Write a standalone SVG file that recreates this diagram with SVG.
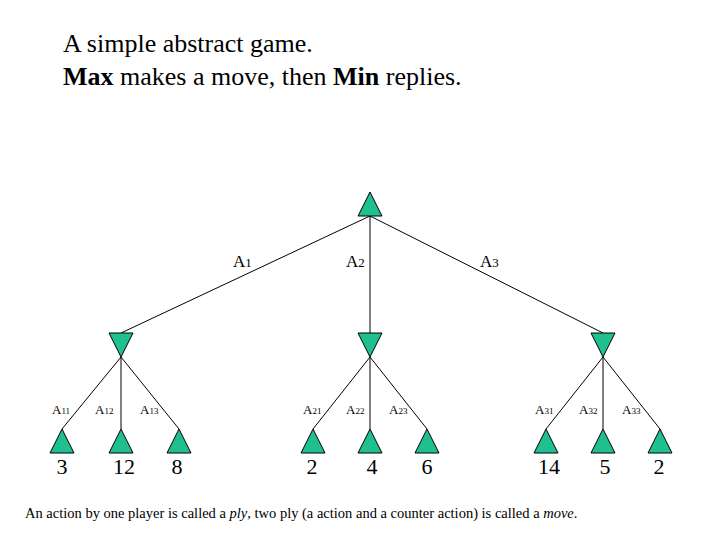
<svg xmlns="http://www.w3.org/2000/svg" width="720" height="540" viewBox="0 0 720 540">
<style>
text{font-family:"Liberation Serif",serif;fill:#000}
.n{fill:#1fbf8f;stroke:#000;stroke-width:1}
.c line{stroke:#000;stroke-width:1}
.t{font-size:26px}
.a{font-size:17px}
.s{font-size:13px}
.sub{font-size:9px}
.v{font-size:22px;text-anchor:middle}
.cap{font-size:14.5px}
</style>
<rect width="720" height="540" fill="#fff"/>
<text class="t" x="63" y="52">A simple abstract game.</text>
<text class="t" x="63" y="85"><tspan font-weight="bold">Max</tspan> makes a move, then <tspan font-weight="bold">Min</tspan> replies.</text>
<g class="c">
<line x1="370" y1="216" x2="121" y2="333"/>
<line x1="370" y1="216" x2="370" y2="333"/>
<line x1="370" y1="216" x2="603" y2="333"/>
<line x1="121" y1="357" x2="62" y2="429"/><line x1="121" y1="357" x2="121" y2="429"/><line x1="121" y1="357" x2="179" y2="429"/>
<line x1="370" y1="357" x2="313" y2="429"/><line x1="370" y1="357" x2="370" y2="429"/><line x1="370" y1="357" x2="427" y2="429"/>
<line x1="603" y1="357" x2="546" y2="429"/><line x1="603" y1="357" x2="603" y2="429"/><line x1="603" y1="357" x2="660" y2="429"/>
</g>
<g id="root"><polygon class="n" points="370,192 358,216 382,216"/></g>
<g id="min1"><polygon class="n" points="109,333 133,333 121,357"/></g>
<g id="min2"><polygon class="n" points="358,333 382,333 370,357"/></g>
<g id="min3"><polygon class="n" points="591,333 615,333 603,357"/></g>
<g id="l11"><polygon class="n" points="62,429 50,453 74,453"/></g>
<g id="l12"><polygon class="n" points="121,429 109,453 133,453"/></g>
<g id="l13"><polygon class="n" points="179,429 167,453 191,453"/></g>
<g id="l21"><polygon class="n" points="313,429 301,453 325,453"/></g>
<g id="l22"><polygon class="n" points="370,429 358,453 382,453"/></g>
<g id="l23"><polygon class="n" points="427,429 415,453 439,453"/></g>
<g id="l31"><polygon class="n" points="546,429 534,453 558,453"/></g>
<g id="l32"><polygon class="n" points="603,429 591,453 615,453"/></g>
<g id="l33"><polygon class="n" points="660,429 648,453 672,453"/></g>
<text class="a" x="233" y="267">A<tspan font-size="13">1</tspan></text>
<text class="a" x="346" y="267">A<tspan font-size="13">2</tspan></text>
<text class="a" x="480" y="267">A<tspan font-size="13">3</tspan></text>
<text class="s" x="52" y="414">A<tspan class="sub">11</tspan></text>
<text class="s" x="95" y="414">A<tspan class="sub">12</tspan></text>
<text class="s" x="140" y="414">A<tspan class="sub">13</tspan></text>
<text class="s" x="303" y="414">A<tspan class="sub">21</tspan></text>
<text class="s" x="346" y="414">A<tspan class="sub">22</tspan></text>
<text class="s" x="389" y="414">A<tspan class="sub">23</tspan></text>
<text class="s" x="535" y="414">A<tspan class="sub">31</tspan></text>
<text class="s" x="579" y="414">A<tspan class="sub">32</tspan></text>
<text class="s" x="622" y="414">A<tspan class="sub">33</tspan></text>
<text class="v" x="62" y="474">3</text>
<text class="v" x="124" y="474">12</text>
<text class="v" x="177" y="474">8</text>
<text class="v" x="312" y="474">2</text>
<text class="v" x="372" y="474">4</text>
<text class="v" x="427" y="474">6</text>
<text class="v" x="549" y="474">14</text>
<text class="v" x="605" y="474">5</text>
<text class="v" x="659" y="474">2</text>
<text class="cap" x="25" y="518">An action by one player is called a <tspan font-style="italic">ply</tspan>, two ply (a action and a counter action) is called a <tspan font-style="italic">move</tspan>.</text>
</svg>
